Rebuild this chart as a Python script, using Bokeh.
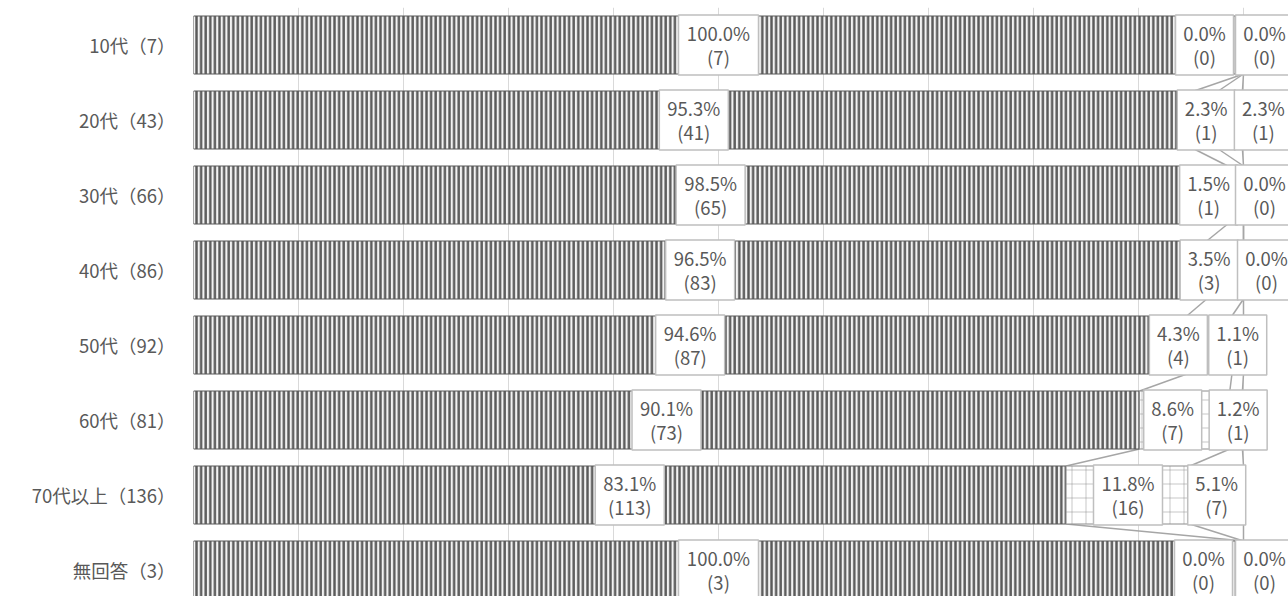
from bokeh.plotting import figure
from bokeh.models import Range1d, FixedTicker, ColumnDataSource
from bokeh.core.properties import value
from bokeh.embed import file_html
from bokeh.resources import INLINE

# ---------------- data ----------------
categories = ["10代（7）", "20代（43）", "30代（66）", "40代（86）",
              "50代（92）", "60代（81）", "70代以上（136）", "無回答（3）"]
pct1 = [100.0, 95.3, 98.5, 96.5, 94.6, 90.1, 83.1, 100.0]
cnt1 = [7, 41, 65, 83, 87, 73, 113, 3]
pct2 = [0.0, 2.3, 1.5, 3.5, 4.3, 8.6, 11.8, 0.0]
cnt2 = [0, 1, 1, 3, 4, 7, 16, 0]
pct3 = [0.0, 2.3, 0.0, 0.0, 1.1, 1.2, 5.1, 0.0]
cnt3 = [0, 1, 0, 0, 1, 1, 7, 0]
grid_ticks = list(range(0, 101, 10))

# ---------------- layout ----------------
W, H = 1288, 596
LEFT, TOP = 193, 7
PX_PER_PCT = 10.5
ROW_PX = 75.0
BAR_PX = 58.0
frame_w = W - LEFT
frame_h = H - TOP
x_end = frame_w / PX_PER_PCT
y_span = frame_h / ROW_PX
bar_h = BAR_PX / ROW_PX
# manual label nudges (screen px) for crowded labels at the right end
seg2_nudge = [-39, 0, -27, -16, -31, -12, 0, -40]
seg3_nudge = [21, 33, 21, 23, 0, 2, 0, 21]

FONT = value("Noto Sans CJK JP")
TXT = "#595959"
FS = "18.5px"

p = figure(width=W, height=H, output_backend="svg", toolbar_location=None,
           x_range=Range1d(0, x_end), y_range=Range1d(-0.5 + y_span, -0.5),
           min_border_left=LEFT, min_border_right=0, min_border_top=TOP,
           min_border_bottom=0)
p.outline_line_color = None
p.background_fill_color = "white"
p.xaxis.visible = False
p.xgrid.ticker = FixedTicker(ticks=grid_ticks)
p.xgrid.grid_line_color = "#d9d9d9"
p.xgrid.grid_line_width = 1
p.ygrid.visible = False

ya = p.yaxis[0]
ya.ticker = FixedTicker(ticks=list(range(len(categories))))
ya.major_label_overrides = {i: c for i, c in enumerate(categories)}
ya.axis_line_color = None
ya.major_tick_line_color = None
ya.minor_tick_line_color = None
ya.major_tick_out = 0
ya.major_tick_in = 0
ya.major_label_standoff = 18
ya.major_label_text_font = "Noto Sans CJK JP"
ya.major_label_text_font_size = FS
ya.major_label_text_color = TXT

ys = list(range(len(categories)))
cum1 = pct1[:]
cum2 = [a + b for a, b in zip(pct1, pct2)]
cum3 = [a + b + c for a, b, c in zip(pct1, pct2, pct3)]

# series lines between consecutive bars
for cum in (cum1, cum2, cum3):
    p.segment(x0=cum[:-1], y0=[y + bar_h / 2 for y in ys[:-1]],
              x1=cum[1:], y1=[y + 1 - bar_h / 2 for y in ys[:-1]],
              line_color="#a6a6a6", line_width=1.5)

# series 1: vertical stripes
p.hbar(y=ys, left=[0] * len(ys), right=cum1, height=bar_h,
       fill_color="#f2f2f2", line_color="#595959", line_width=1,
       hatch_pattern="vertical_line", hatch_color="#595959",
       hatch_scale=4.6, hatch_weight=2.4)

# series 2 & 3: dotted grid
for left, right in ((cum1, cum2), (cum2, cum3)):
    idx = [i for i in ys if right[i] - left[i] > 0]
    p.hbar(y=[ys[i] for i in idx], left=[left[i] for i in idx],
           right=[right[i] for i in idx], height=bar_h,
           fill_color="white", line_color="#8c8c8c", line_width=1,
           hatch_pattern="cross", hatch_color="#7f7f7f",
           hatch_scale=14, hatch_weight=0.8, hatch_alpha=0.55)

# data labels
lx, ly, l1, l2, lw = [], [], [], [], []
series = [(pct1, cnt1, [0.0] * len(ys), [0] * len(ys)),
          (pct2, cnt2, cum1, seg2_nudge),
          (pct3, cnt3, cum2, seg3_nudge)]
for pct, cnt, base, nudge in series:
    for i in ys:
        s = f"{pct[i]:.1f}%"
        lx.append(base[i] + pct[i] / 2 + nudge[i] / PX_PER_PCT)
        ly.append(ys[i])
        l1.append(s)
        l2.append(f"({cnt[i]})")
        lw.append(14 + 11 * len(s))

src = ColumnDataSource(dict(x=lx, y=ly, t1=l1, t2=l2, w=lw))
p.rect(x="x", y="y", width="w", height=60, width_units="screen",
       height_units="screen", source=src, fill_color="white",
       line_color="#bfbfbf", line_width=1.5)
p.text(x="x", y="y", text="t1", source=src, text_align="center",
       text_baseline="middle", y_offset=-12, text_font=FONT,
       text_font_size=FS, text_color=TXT)
p.text(x="x", y="y", text="t2", source=src, text_align="center",
       text_baseline="middle", y_offset=12, text_font=FONT,
       text_font_size=FS, text_color=TXT)

open("out.html", "w").write(file_html(p, INLINE))
